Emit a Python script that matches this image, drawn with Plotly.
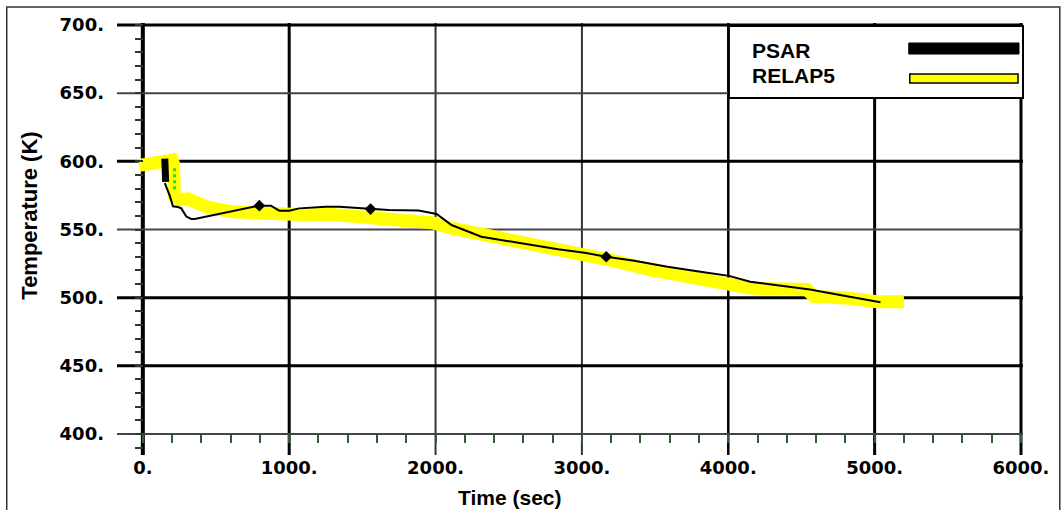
import plotly.graph_objects as go

# ---------------- data ----------------
psar_t = [150, 183, 206, 240, 263, 297, 331, 354, 796, 875, 932, 1000, 1068, 1250, 1340,
          1556, 1680, 1884, 2007, 2109, 2313, 2565, 2837, 3018, 3166, 3358, 3585, 3810,
          4005, 4150, 4558, 4830, 5040]
psar_T = [584, 575, 567, 566.5, 565.5, 559.5, 557.7, 557.7, 567.5, 567.5, 563.8, 563.8, 565.5,
          566.7, 566.7, 565, 564.3, 564, 561.4, 553.3, 544.7, 540.3, 535.5, 533, 530, 527.1,
          522.7, 519, 516, 511.7, 506, 500.7, 496.6]
psar_init_t = [150, 156]
psar_init_T = [602, 585]
psar_mark_t = [796, 1556, 3166]
psar_mark_T = [567.5, 565, 530]

relap_t = [-25, 100, 160, 200, 210, 212, 215, 250, 310, 370, 456, 612, 840, 1068, 1295, 1522,
           1748, 1975, 2109, 2340, 2565, 2789, 3020, 3245, 3469, 3700, 3925, 4150, 4537, 4583,
           4830, 5014, 5200]
relap_T = [597, 598, 600, 601, 598, 585, 575, 572, 572.5, 569.5, 566, 563, 561, 561, 561, 559.5,
           557, 555, 551, 546, 542.8, 538.6, 532.5, 526.4, 520.3, 515.4, 510.5, 507, 506, 501,
           499.5, 497, 497]
green_t = [217, 217]
green_T = [595, 579]

x_ticks = [0, 1000, 2000, 3000, 4000, 5000, 6000]
x_ticktext = ["0.", "1000.", "2000.", "3000.", "4000.", "5000.", "6000."]
y_ticks = [400, 450, 500, 550, 600, 650, 700]
y_ticktext = ["400.", "450.", "500.", "550.", "600.", "650.", "700."]

series_names = ["PSAR", "RELAP5"]

# ---------------- figure ----------------
fig = go.Figure()

fig.add_trace(go.Scatter(x=relap_t, y=relap_T, mode="lines", name=series_names[1],
                         line=dict(color="#ffff00", width=13), showlegend=False))
fig.add_trace(go.Scatter(x=green_t, y=green_T, mode="lines", xaxis="x2", yaxis="y2",
                         line=dict(color="#22dd22", width=3, dash="dot"), showlegend=False))
fig.add_trace(go.Scatter(x=psar_t, y=psar_T, mode="lines", name=series_names[0],
                         line=dict(color="black", width=2), showlegend=False))
fig.add_trace(go.Scatter(x=psar_init_t, y=psar_init_T, mode="lines",
                         line=dict(color="black", width=7), showlegend=False))
fig.add_trace(go.Scatter(x=psar_mark_t, y=psar_mark_T, mode="markers",
                         marker=dict(symbol="diamond", size=9, color="black"), showlegend=False))

X_RANGE = [-176.5, 6013.7]
Y_RANGE = [384.6, 701.47]

shapes = []
# vertical grid lines
thick_x = {0: 4, 1000: 3, 2000: 2, 3000: 2, 4000: 2.5, 5000: 3, 6000: 3}
for xv in x_ticks:
    w = thick_x.get(xv, 2)
    shapes.append(dict(type="line", xref="x", yref="paper", x0=xv, x1=xv, y0=0, y1=1,
                       line=dict(color="black" if w >= 2.5 else "#333333", width=w), layer="below"))
# horizontal grid lines
thick_y = {400: 2, 450: 3, 500: 3, 550: 2, 600: 3, 650: 2, 700: 3}
for yv in y_ticks:
    w = thick_y.get(yv, 2)
    shapes.append(dict(type="line", xref="paper", yref="y", x0=0, x1=1, y0=yv, y1=yv,
                       line=dict(color="black" if w >= 2.5 else "#444444", width=w), layer="below"))

# outer frame
shapes.append(dict(type="rect", xref="paper", yref="paper", x0=-0.1217, x1=1.0406,
                   y0=-0.139, y1=1.037, line=dict(color="#333333", width=1.5),
                   fillcolor="rgba(0,0,0,0)", layer="above"))
# legend box
shapes.append(dict(type="rect", xref="paper", yref="paper", x0=0.6754, x1=1.0,
                   y0=0.8264, y1=0.9931, line=dict(color="black", width=2),
                   fillcolor="white", layer="above"))
shapes.append(dict(type="rect", xref="paper", yref="paper", x0=0.8739, x1=0.9956,
                   y0=0.9282, y1=0.9537, line=dict(color="black", width=1),
                   fillcolor="black", layer="above"))
shapes.append(dict(type="rect", xref="paper", yref="paper", x0=0.875, x1=0.9945,
                   y0=0.8611, y1=0.8819, line=dict(color="black", width=1.5),
                   fillcolor="#ffff00", layer="above"))

annotations = [
    dict(text="<b>PSAR</b>", xref="paper", yref="paper", x=0.6985, y=0.9375,
         xanchor="left", yanchor="middle", showarrow=False,
         font=dict(family="Liberation Sans", size=21, color="black")),
    dict(text="<b>RELAP5</b>", xref="paper", yref="paper", x=0.6985, y=0.8796,
         xanchor="left", yanchor="middle", showarrow=False,
         font=dict(family="Liberation Sans", size=21, color="black")),
    dict(text="<b>Time (sec)</b>", xref="paper", yref="paper", x=0.434, y=-0.0995,
         xanchor="center", yanchor="middle", showarrow=False,
         font=dict(family="Liberation Sans", size=21, color="black")),
    dict(text="<b>Temperature (K)</b>", xref="paper", yref="paper", x=-0.0965, y=0.553,
         xanchor="center", yanchor="middle", showarrow=False, textangle=-90,
         font=dict(family="Liberation Sans", size=22, color="black")),
]

tick_font = dict(family="DejaVu Sans", size=18, color="black", weight="bold")

fig.update_layout(
    width=1061, height=510,
    margin=dict(l=117, r=32, t=23, b=55),
    paper_bgcolor="white", plot_bgcolor="white",
    showlegend=False,
    xaxis=dict(range=X_RANGE, tickvals=x_ticks, ticktext=x_ticktext, showgrid=False,
               zeroline=False, showline=False, ticks="", tickfont=tick_font, fixedrange=True),
    yaxis=dict(range=Y_RANGE, tickvals=y_ticks, ticktext=y_ticktext, showgrid=False,
               zeroline=False, showline=False, ticks="", tickfont=tick_font,
               ticklabelstandoff=12, fixedrange=True),
    xaxis2=dict(range=X_RANGE, overlaying="x", anchor="free", position=0.0486,
                dtick=200, tick0=0, ticks="outside", ticklen=8, tickwidth=2,
                tickcolor="#2f5f2f", showticklabels=False, showgrid=False,
                zeroline=False, showline=False),
    yaxis2=dict(range=Y_RANGE, overlaying="y", anchor="free", position=0.0285,
                dtick=10, tick0=0, ticks="outside", ticklen=8, tickwidth=2,
                tickcolor="#333333", showticklabels=False, showgrid=False,
                zeroline=False, showline=False),
    shapes=shapes,
    annotations=annotations,
)

fig.write_html("out.html")
